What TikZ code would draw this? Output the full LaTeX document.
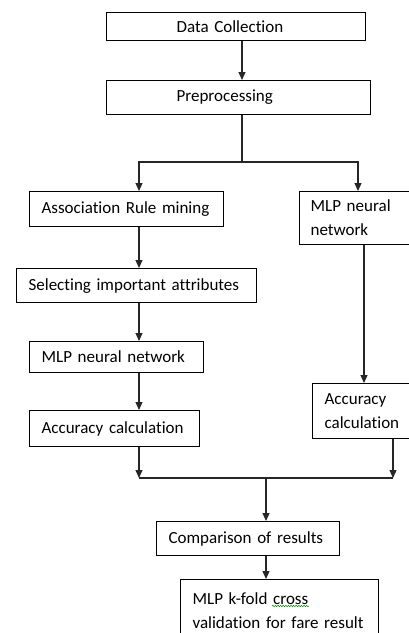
\documentclass[tikz,border=0pt]{standalone}
\usepackage{fontspec}
\setmainfont[Ligatures=NoCommon]{Carlito}
\usetikzlibrary{arrows.meta,decorations.pathmorphing}
\begin{document}
\begin{tikzpicture}[x=1pt,y=-1pt,
  box/.style={draw=black, line width=1.2pt, anchor=north west, align=left,
    inner ysep=0pt, inner xsep=12pt, text=black,
    font=\fontsize{17}{24}\selectfont},
  line/.style={draw=black!85, line width=1.2pt},
  arr/.style={line, -{Triangle[length=8pt,width=7pt]}}]
\useasboundingbox (0,0) rectangle (409,633);
\clip (0,0) rectangle (409,633);
% boxes
\node[box, inner xsep=70pt, text width=119pt, minimum width=259pt, minimum height=28pt] (dc) at (106,12) {\mbox{Data Collection}};
\node[box, inner xsep=70pt, text width=124pt, minimum width=264pt, minimum height=34pt] (pre) at (106,80) {\mbox{Preprocessing}};
\node[box, text width=170pt, minimum width=194pt, minimum height=35pt] (arm) at (29,191) {\mbox{Association Rule mining}};
\node[box, inner xsep=11pt, text width=104pt, minimum width=126pt, minimum height=53pt] (mlpR) at (299,191) {\raisebox{-3pt}{MLP neural}\\\raisebox{-3pt}{network}};
\node[box, text width=216pt, minimum width=240pt, minimum height=34pt] (sel) at (16,268) {\mbox{Selecting important attributes}};
\node[box, text width=150pt, minimum width=174pt, minimum height=31pt] (mlpL) at (29,341) {\mbox{MLP neural network}};
\node[box, text width=146pt, minimum width=170pt, minimum height=36pt] (accL) at (29,410) {\mbox{Accuracy calculation}};
\node[box, text width=82pt, minimum width=106pt, minimum height=55pt] (accR) at (312,383) {Accuracy\\calculation};
\node[box, text width=159pt, minimum width=183pt, minimum height=34pt] (comp) at (156,521) {\mbox{Comparison of results}};
\node[box, text width=174pt, minimum width=198pt, minimum height=62pt] (fin) at (180,579) {MLP k-fold cross\\validation for fare result};
% spell-check underline
\draw[green!55!black, line width=0.5pt, decorate, decoration={snake, amplitude=0.7pt, segment length=2.6pt}] (272,606) -- (309,606);
% helper coordinates
\coordinate (cx) at (242,0);
\coordinate (sp) at (242,162);
\coordinate (xl) at (139,0);
\coordinate (xr) at (358,0);
\coordinate (xr2) at (364,0);
\coordinate (xr3) at (393,0);
\coordinate (jn) at (266,478);
\coordinate (jl) at (139,478);
\coordinate (jr) at (393,478);
% connectors
\draw[arr] (dc.south -| cx) -- (pre.north -| cx);
\draw[line] (pre.south -| cx) -- (sp);
\draw[arr] (sp) -| (arm.north -| xl);
\draw[arr] (sp) -| (mlpR.north -| xr);
\draw[arr] (arm.south -| xl) -- (sel.north -| xl);
\draw[arr] (sel.south -| xl) -- (mlpL.north -| xl);
\draw[arr] (mlpL.south -| xl) -- (accL.north -| xl);
\draw[arr] (mlpR.south -| xr2) -- (accR.north -| xr2);
\draw[arr] (accL.south -| xl) -- (jl);
\draw[arr] (accR.south -| xr3) -- (jr);
\draw[line] (jl) -- (jr);
\draw[arr] (jn) -- (comp.north -| jn);
\draw[arr] (comp.south -| jn) -- (fin.north -| jn);
\end{tikzpicture}
\end{document}
